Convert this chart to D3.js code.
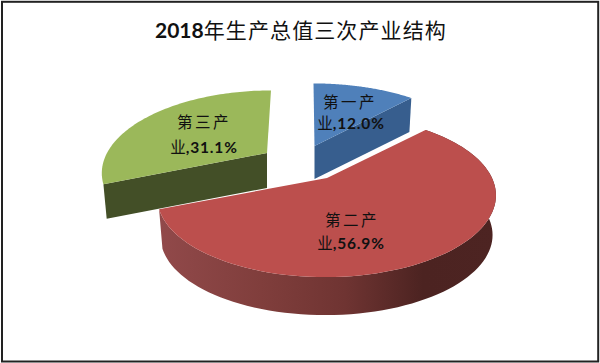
<!DOCTYPE html>
<html><head><meta charset="utf-8">
<script src="https://cdn.jsdelivr.net/npm/d3@7/dist/d3.min.js"></script>
<style>html,body{margin:0;padding:0;background:#fff}svg{display:block}</style>
</head><body>
<svg id="c" width="600" height="363"></svg>
<script>
const title = "2018年生产总值三次产业结构";
const categories = ["第一产业", "第二产业", "第三产业"];
const shares = [12.0, 56.9, 31.1];
const topColors = ["#4f80ba", "#bc4f4d", "#9bb85a"];
const wallColors = ["#375e8e", "#7a3836", "#434f27"];

const W = 600, H = 363;
const svg = d3.select("#c");
const cjk = "'Noto Sans CJK SC'", latin = "Lato, 'Open Sans'";

// layout of each exploded slice on screen
const layout = [
  {ax: 314.5, ay: 146, rx: 166, skew: -1, depth: 33},
  {ax: 327,   ay: 178, rx: 165, skew: 2,  depth: 40},
  {ax: 267,   ay: 153, rx: 160, skew: 4,  depth: 35}
];
const RY = 76.7, PERSP = 0.226, N = 90;

const pie = d3.pie().sort(null).value(d => d)(shares);

function project(l, theta, r, sink) {
  const u = Math.sin(theta) * r, v = Math.cos(theta) * r;
  const f = 1 / (1 + PERSP * v);
  const shrink = sink ? 0.98 : 1;
  return [
    l.ax + (l.rx * u * f + l.skew * v) * shrink,
    l.ay - RY * v * f * shrink + (sink ? l.depth : 0)
  ];
}
function arcPts(l, a0, a1, sink) {
  return d3.range(N + 1).map(i => project(l, a0 + (a1 - a0) * i / N, 1, sink));
}
const line = d3.line();

// gradient on the curved wall of the large slice
const defs = svg.append("defs");
const grad = defs.append("linearGradient").attr("id", "wall")
  .attr("gradientUnits", "userSpaceOnUse").attr("x1", 160).attr("x2", 497).attr("y1", 0).attr("y2", 0);
[[0, "#91494a"], [0.3, "#803e3c"], [0.55, "#6f3432"], [0.78, "#4c2321"], [1, "#4d2422"]]
  .forEach(([o, c]) => grad.append("stop").attr("offset", o).attr("stop-color", c));

svg.append("rect").attr("width", W).attr("height", H).attr("fill", "#fff");
svg.append("rect").attr("x", 2).attr("y", 1.8).attr("width", 596.2).attr("height", 359.7)
  .attr("fill", "none").attr("stroke", "#222").attr("stroke-width", 2);

// walls first
pie.forEach((d, i) => {
  const l = layout[i];
  const apexTop = [l.ax, l.ay], apexBot = [l.ax, l.ay + l.depth];
  const top = arcPts(l, d.startAngle, d.endAngle, false);
  const bot = arcPts(l, d.startAngle, d.endAngle, true);
  const g = svg.append("g");
  if (i === 1) {
    g.append("path").attr("d", line(top.concat(bot.slice().reverse())) + "Z").attr("fill", "url(#wall)");
  } else {
    // visible cut face
    const a = i === 0 ? d.endAngle : d.startAngle;
    const t = project(l, a, 1, false), b = project(l, a, 1, true);
    g.append("path").attr("d", line([apexTop, t, b, apexBot]) + "Z").attr("fill", wallColors[i]);
  }
});
// top faces
pie.forEach((d, i) => {
  const l = layout[i];
  const pts = [[l.ax, l.ay]].concat(arcPts(l, d.startAngle, d.endAngle, false));
  svg.append("path").attr("d", line(pts) + "Z").attr("fill", topColors[i]);
});

// title
const tt = svg.append("text").attr("x", 155).attr("y", 38).attr("fill", "#111");
tt.append("tspan").attr("font-family", latin).attr("font-weight", 700).attr("font-size", 21).text(title.slice(0, 4));
tt.append("tspan").attr("font-family", cjk).attr("font-size", 21).attr("letter-spacing", 1.1).text(title.slice(4));

// data labels
const labelPos = [[350, 108, 351, 129], [352, 226, 351, 249], [204, 128, 204, 153]];
pie.forEach((d, i) => {
  const name = categories[i];
  const [x1, y1, x2, y2] = labelPos[i];
  const fillC = "#111";
  svg.append("text").attr("x", x1).attr("y", y1).attr("text-anchor", "middle")
    .attr("font-family", cjk).attr("font-size", 15.5).attr("letter-spacing", 2.5).attr("fill", fillC)
    .text(name.slice(0, 3));
  const t2 = svg.append("text").attr("x", x2).attr("y", y2).attr("text-anchor", "middle").attr("fill", fillC);
  t2.append("tspan").attr("font-family", cjk).attr("font-size", 15.5).text(name.slice(3));
  t2.append("tspan").attr("font-family", latin).attr("font-weight", 700).attr("font-size", 15.5)
    .attr("letter-spacing", 0.8).text("," + d3.format(".1f")(shares[i]) + "%");
});
</script>
</body></html>
